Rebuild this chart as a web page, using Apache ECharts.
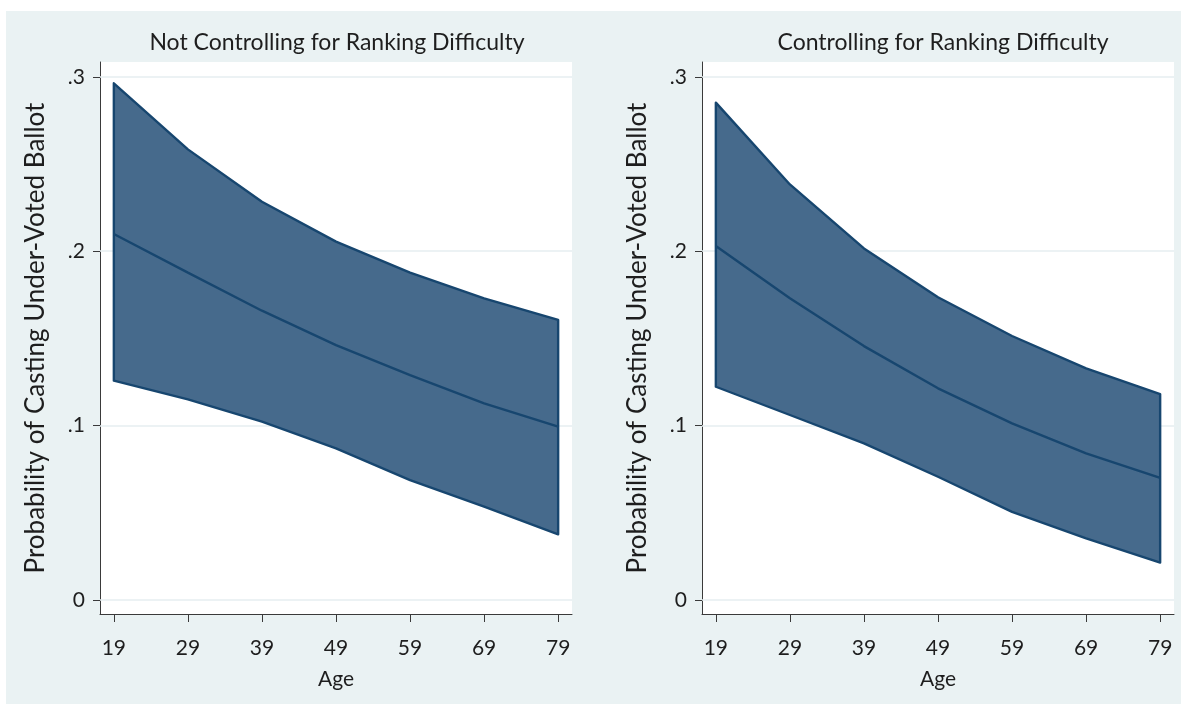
<!DOCTYPE html>
<html>
<head>
<meta charset="utf-8">
<script src="https://cdn.jsdelivr.net/npm/echarts/dist/echarts.min.js"></script>
<style>
  html, body { margin: 0; padding: 0; background: #ffffff; }
  #chart { position: absolute; left: 6px; top: 11px; width: 1175px; height: 693px; background: #EAF2F3; }
</style>
</head>
<body>
<div id="chart"></div>
<script>
const ages = [19, 29, 39, 49, 59, 69, 79];
const xTicks = [19, 29, 39, 49, 59, 69, 79];
const yTicks = [0, 0.1, 0.2, 0.3];
const yTickLabels = ['0', '.1', '.2', '.3'];

const panelTitles = ['Not Controlling for Ranking Difficulty', 'Controlling for Ranking Difficulty'];
const xTitle = 'Age';
const yTitle = 'Probability of Casting Under-Voted Ballot';

const notCtrlUpper = [0.2963, 0.2584, 0.2284, 0.2055, 0.1877, 0.1730, 0.1606];
const notCtrlMean  = [0.2099, 0.1877, 0.1659, 0.1462, 0.1290, 0.1128, 0.0994];
const notCtrlLower = [0.1258, 0.1151, 0.1023, 0.0870, 0.0688, 0.0535, 0.0377];

const ctrlUpper = [0.2852, 0.2383, 0.2016, 0.1736, 0.1514, 0.1328, 0.1181];
const ctrlMean  = [0.2030, 0.1730, 0.1456, 0.1214, 0.1013, 0.0841, 0.0700];
const ctrlLower = [0.1223, 0.1061, 0.0898, 0.0707, 0.0506, 0.0354, 0.0215];

const FONT = 'Lato';
const FILL = '#466A8C';
const LINE = '#17466F';
const AXIS = '#3a3a3a';
const TEXT = '#1e1e1e';

const chart = echarts.init(document.getElementById('chart'), null, { renderer: 'canvas' });

function xAxisCfg(gi) {
  return {
    type: 'value', gridIndex: gi, min: 17.13, max: 80.87,
    name: xTitle, nameLocation: 'middle', nameGap: 55,
    nameTextStyle: { fontSize: 21, color: TEXT, fontFamily: FONT },
    axisLine: { show: true, onZero: false, lineStyle: { color: AXIS, width: 1 } },
    axisTick: { show: true, length: 8, customValues: xTicks, lineStyle: { color: AXIS, width: 1 } },
    axisLabel: { customValues: xTicks, fontSize: 21, margin: 24, color: TEXT, fontFamily: FONT },
    splitLine: { show: false }
  };
}
function yAxisCfg(gi) {
  return {
    type: 'value', gridIndex: gi, min: -0.008, max: 0.3085,
    name: yTitle, nameLocation: 'middle', nameGap: 51,
    nameTextStyle: { fontSize: 26, color: TEXT, fontFamily: FONT },
    axisLine: { show: true, onZero: false, lineStyle: { color: AXIS, width: 1 } },
    axisTick: { show: true, length: 7, customValues: yTicks, lineStyle: { color: AXIS, width: 1 } },
    axisLabel: {
      customValues: yTicks, fontSize: 21, margin: 15, color: TEXT, fontFamily: FONT,
      formatter: function (v) {
        for (let i = 0; i < yTicks.length; i++) if (Math.abs(yTicks[i] - v) < 1e-9) return yTickLabels[i];
        return '';
      }
    },
    splitLine: { show: false }
  };
}

function bandSeries(gi, upper, lower) {
  return {
    type: 'custom', xAxisIndex: gi, yAxisIndex: gi, z: 5, silent: true,
    data: ages.map((a, i) => [a, upper[i], lower[i]]),
    encode: { x: 0, y: [1, 2] },
    renderItem: function (params, api) {
      if (params.dataIndex !== 0) return;
      const pts = [];
      for (let i = 0; i < ages.length; i++) pts.push(api.coord([ages[i], upper[i]]));
      for (let i = ages.length - 1; i >= 0; i--) pts.push(api.coord([ages[i], lower[i]]));
      return {
        type: 'polygon',
        shape: { points: pts },
        style: { fill: FILL, stroke: LINE, lineWidth: 2.4, lineJoin: 'round' }
      };
    }
  };
}
function meanSeries(gi, mean) {
  return {
    type: 'line', xAxisIndex: gi, yAxisIndex: gi, z: 6, silent: true,
    data: ages.map((a, i) => [a, mean[i]]),
    symbol: 'none', lineStyle: { color: LINE, width: 2.4 }
  };
}
function gridLineSeries(gi) {
  return {
    type: 'line', xAxisIndex: gi, yAxisIndex: gi, z: 1, silent: true, data: [],
    markLine: {
      z: 1, silent: true, symbol: ['none', 'none'], label: { show: false },
      lineStyle: { color: '#E6EEF0', width: 1.5, type: 'solid' },
      data: yTicks.map(v => ({ yAxis: v }))
    }
  };
}

chart.setOption({
  backgroundColor: 'transparent',
  animation: false,
  textStyle: { fontFamily: FONT },
  title: [
    { text: panelTitles[0], left: 326, top: 15, textAlign: 'center',
      textStyle: { fontSize: 23, fontWeight: 'normal', color: TEXT, fontFamily: FONT } },
    { text: panelTitles[1], left: 932, top: 15, textAlign: 'center',
      textStyle: { fontSize: 23, fontWeight: 'normal', color: TEXT, fontFamily: FONT } }
  ],
  grid: [
    { left: 94, top: 51, width: 472, height: 552, show: true, backgroundColor: '#ffffff', borderWidth: 0 },
    { left: 696, top: 51, width: 472, height: 552, show: true, backgroundColor: '#ffffff', borderWidth: 0 }
  ],
  xAxis: [xAxisCfg(0), xAxisCfg(1)],
  yAxis: [yAxisCfg(0), yAxisCfg(1)],
  series: [
    gridLineSeries(0), bandSeries(0, notCtrlUpper, notCtrlLower), meanSeries(0, notCtrlMean),
    gridLineSeries(1), bandSeries(1, ctrlUpper, ctrlLower), meanSeries(1, ctrlMean)
  ]
});
</script>
</body>
</html>
